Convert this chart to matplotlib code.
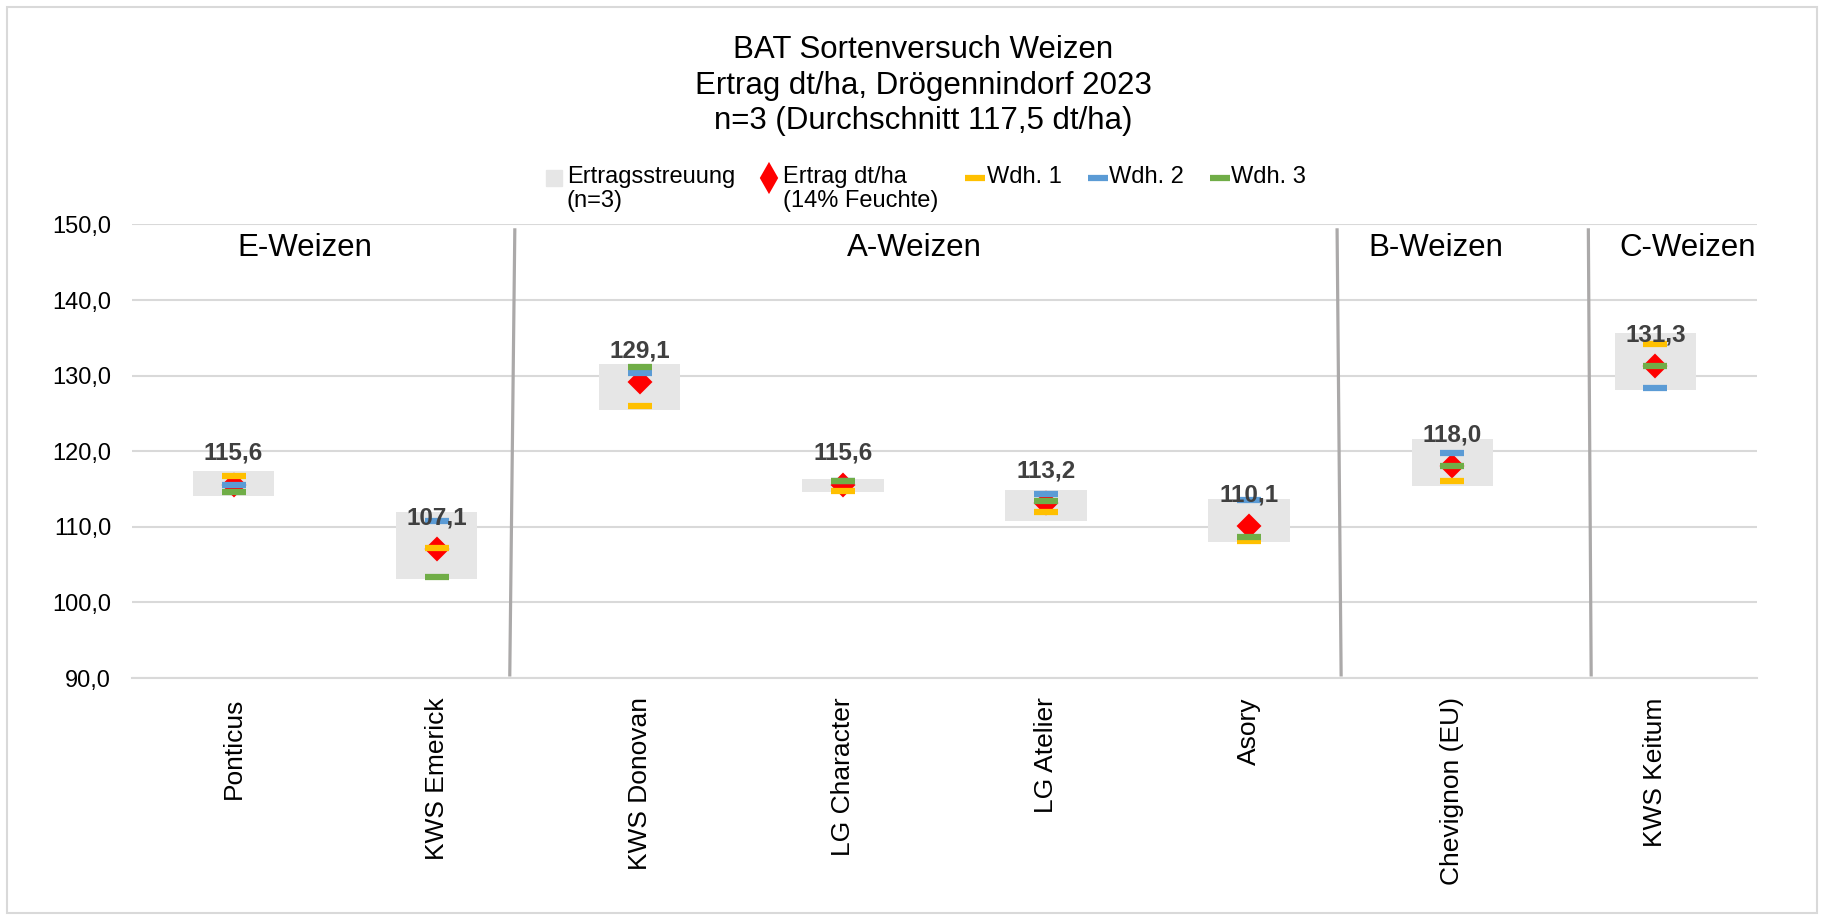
import numpy as np
import matplotlib
matplotlib.use("Agg")
import matplotlib.pyplot as plt
from matplotlib.lines import Line2D
from matplotlib.patches import Rectangle

plt.rcParams["font.family"] = ["Liberation Sans", "DejaVu Sans"]

# --------------------------
# Data
# --------------------------
sorten = ["Ponticus", "KWS Emerick", "KWS Donovan", "LG Character",
          "LG Atelier", "Asory", "Chevignon (EU)", "KWS Keitum"]
mittel = [115.6, 107.1, 129.1, 115.6, 113.2, 110.1, 118.0, 131.3]
wdh1 = [116.7, 107.2, 126.0, 114.7, 112.0, 108.1, 116.1, 134.2]
wdh2 = [115.6, 110.8, 130.3, 116.1, 114.3, 113.5, 119.8, 128.4]
wdh3 = [114.6, 103.4, 131.1, 116.0, 113.4, 108.7, 118.1, 131.3]
streu_unten = [114.1, 103.1, 125.5, 114.6, 110.8, 108.0, 115.4, 128.1]
streu_oben = [117.4, 112.0, 131.6, 116.3, 114.85, 113.7, 121.6, 135.6]

gruppen = ["E-Weizen", "A-Weizen", "B-Weizen", "C-Weizen"]
gruppen_x = [0.35, 3.35, 5.92, 7.16]
trenner = [(1.385, 1.36), (5.433, 5.453), (6.67, 6.684)]

GELB, BLAU, GRUEN, ROT, GRAU = "#FFC000", "#5B9BD5", "#70AD47", "#FF0000", "#E6E6E6"

# --------------------------
# Figure
# --------------------------
fig = plt.figure(figsize=(18.25, 9.17), dpi=100)
ax = fig.add_axes([0.0723, 0.2606, 0.8904, 0.4946])

x = np.arange(len(sorten))
ax.bar(x, np.array(streu_oben) - np.array(streu_unten), bottom=streu_unten,
       width=0.4, color=GRAU, zorder=2)
ax.plot(x, mittel, linestyle="", marker="D", ms=11.5, color=ROT, mec=ROT,
        mew=1.5, zorder=3)
for vals, col in [(wdh1, GELB), (wdh2, BLAU), (wdh3, GRUEN)]:
    ax.plot(x, vals, linestyle="", marker="_", ms=17, mew=4.5, color=col,
            solid_capstyle="round", zorder=4)

for xi, m in zip(x, mittel):
    ax.annotate(f"{m:.1f}".replace(".", ","), (xi, m), xytext=(0, 22.5),
                textcoords="offset points", ha="center", va="center",
                fontsize=17.5, fontweight="bold", color="#404040", zorder=5)

# group separators and labels
for x0, x1 in trenner:
    ax.plot([x0, x1], [149.5, 90.2], color="#ABA9A9", lw=2.3, zorder=1,
            solid_capstyle="butt")
for g, gx in zip(gruppen, gruppen_x):
    ax.text(gx, 146.9, g, ha="center", va="center", fontsize=22.5, color="black")

ax.set_xlim(-0.5, len(sorten) - 0.5)
ax.set_ylim(90, 150)
ax.set_yticks(np.arange(90, 151, 10))
ax.set_yticklabels([f"{v:.1f}".replace(".", ",") for v in np.arange(90, 151, 10)])
ax.set_xticks(x)
ax.set_xticklabels(sorten, rotation=90)
ax.tick_params(axis="both", length=0, labelsize=17, colors="black")
ax.tick_params(axis="y", pad=15)
ax.tick_params(axis="x", pad=14, labelsize=19)
ax.grid(axis="y", color="#D9D9D9", lw=1.5, zorder=0)
ax.set_axisbelow(True)
for s in ["top", "right", "left"]:
    ax.spines[s].set_visible(False)
ax.spines["bottom"].set_color("#D9D9D9")
ax.spines["bottom"].set_linewidth(1.5)

# title
fig.text(0.506, 1 - 35 / 917,
         "BAT Sortenversuch Weizen\nErtrag dt/ha, Drögennindorf 2023\nn=3 (Durchschnitt 117,5 dt/ha)",
         ha="center", va="top", fontsize=22.5, linespacing=1.24)

# legend (drawn by hand to keep the two-line labels top-aligned)
W, H = 1825, 917
ly = 1 - 178 / H
items = [
    (554, 567, dict(marker="s", ms=11, color=GRAU, mec=GRAU), "Ertragsstreuung\n(n=3)"),
    (769, 783, dict(marker="d", ms=14, mew=1.5, color=ROT, mec=ROT), "Ertrag dt/ha\n(14% Feuchte)"),
    (975, 987, dict(marker="_", ms=14, mew=4.5, color=GELB), "Wdh. 1"),
    (1098, 1109, dict(marker="_", ms=14, mew=4.5, color=BLAU), "Wdh. 2"),
    (1220, 1231, dict(marker="_", ms=14, mew=4.5, color=GRUEN), "Wdh. 3"),
]
for mx, tx, style, label in items:
    fig.add_artist(Line2D([mx / W], [ly], transform=fig.transFigure,
                          linestyle="", **style))
    fig.text(tx / W, ly + 12 / H, label, ha="left", va="top", fontsize=17,
             linespacing=1.1)

# outer chart border
fig.add_artist(Rectangle((7 / W, 4 / H), 1810 / W, 906 / H,
                         transform=fig.transFigure, fill=False,
                         edgecolor="#D9D9D9", lw=1.5))

fig.savefig("out.png", dpi=100)
